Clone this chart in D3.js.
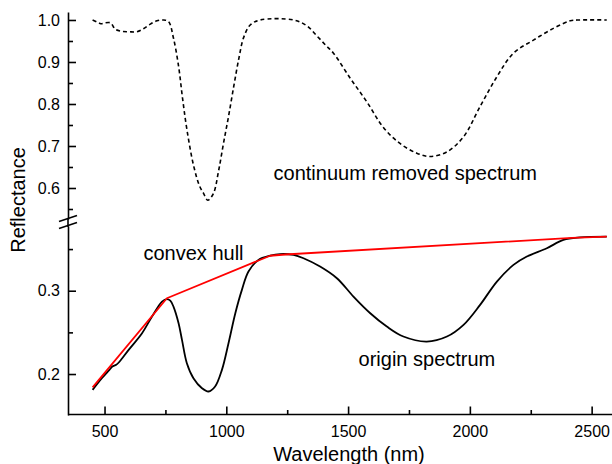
<!DOCTYPE html>
<html>
<head>
<meta charset="utf-8">
<script src="https://cdn.jsdelivr.net/npm/d3@7/dist/d3.min.js"></script>
<style>
  html, body { margin: 0; padding: 0; background: #fff; }
  svg { display: block; }
  text { font-family: "Liberation Sans", Arial, Helvetica, sans-serif; fill: #000; }
</style>
</head>
<body>
<svg id="chart" width="612" height="464"></svg>
<script>
// Original reflectance spectrum (nm, reflectance)
const originWavelength = [451, 489, 520, 532, 548, 562, 599, 654, 695, 736, 756, 770, 783, 804, 818, 838, 865, 900, 927, 954, 982, 1009, 1037, 1064, 1091, 1132, 1180, 1221, 1276, 1317, 1385, 1454, 1522, 1591, 1659, 1727, 1823, 1906, 1974, 2042, 2111, 2179, 2234, 2316, 2384, 2452, 2562];
const originReflectance = [0.181, 0.195, 0.205, 0.209, 0.211, 0.215, 0.229, 0.249, 0.269, 0.287, 0.290, 0.288, 0.281, 0.261, 0.241, 0.213, 0.195, 0.183, 0.179, 0.185, 0.205, 0.237, 0.273, 0.301, 0.323, 0.337, 0.342, 0.344, 0.343, 0.339, 0.329, 0.315, 0.293, 0.273, 0.257, 0.245, 0.239, 0.245, 0.259, 0.283, 0.311, 0.331, 0.341, 0.351, 0.361, 0.364, 0.365];

// Convex hull (continuum) over the spectrum
const hullWavelength = [451, 756, 1180, 1242, 2420, 2562];
const hullReflectance = [0.184, 0.291, 0.342, 0.3435, 0.3635, 0.365];

// Continuum-removed spectrum
const crWavelength = [451, 470, 485, 500, 525, 544, 570, 600, 633, 660, 685, 715, 742, 763, 783, 804, 820, 838, 865, 890, 906, 924, 947, 968, 988, 1009, 1030, 1052, 1071, 1098, 1139, 1276, 1331, 1372, 1408, 1440, 1508, 1577, 1645, 1713, 1782, 1837, 1906, 1974, 2042, 2111, 2179, 2261, 2343, 2412, 2450, 2562];
const crReflectance = [1.0, 0.995, 0.991, 0.993, 0.993, 0.978, 0.973, 0.972, 0.972, 0.979, 0.989, 0.998, 1.0, 0.996, 0.957, 0.89, 0.815, 0.74, 0.655, 0.605, 0.588, 0.571, 0.587, 0.64, 0.705, 0.77, 0.84, 0.91, 0.958, 0.988, 1.0, 1.0, 0.986, 0.962, 0.94, 0.921, 0.862, 0.805, 0.744, 0.706, 0.683, 0.675, 0.686, 0.722, 0.794, 0.865, 0.921, 0.952, 0.98, 0.998, 1.0, 1.0];

// Axis ticks
const xMajorTicks = [500, 1000, 1500, 2000, 2500];
const xMinorTicks = [750, 1250, 1750, 2250];
const yUpperMajorTicks = [0.6, 0.7, 0.8, 0.9, 1.0];
const yUpperMinorTicks = [0.55, 0.65, 0.75, 0.85, 0.95];
const yLowerMajorTicks = [0.2, 0.3];
const yLowerMinorTicks = [0.25, 0.35];

const svg = d3.select("#chart");

const x = d3.scaleLinear().domain([350, 2600]).range([68, 616]);
// Broken y axis: upper panel for the continuum-removed curve, lower for reflectance
const yUpper = d3.scaleLinear().domain([0.5262, 1.019]).range([219, 12]);
const yLower = d3.scaleLinear().domain([0.1508, 0.3777]).range([415, 226]);

const axisStroke = 1.6;

function styleAxis(g) {
  g.selectAll("path.domain").attr("stroke", "#000").attr("stroke-width", axisStroke);
  g.selectAll(".tick line").attr("stroke", "#000").attr("stroke-width", axisStroke);
  g.selectAll(".tick text").attr("font-size", 16).attr("fill", "#000")
    .attr("font-family", '"Liberation Sans", Arial, sans-serif');
}

// X axis
const gx = svg.append("g").attr("transform", "translate(0,414.5)");
gx.call(d3.axisBottom(x).tickValues(xMajorTicks).tickSize(-8).tickPadding(11.5).tickSizeOuter(0).tickFormat(d3.format("d")))
  .call(styleAxis);
gx.select("path.domain").attr("d", "M68,0H612");
svg.append("g").attr("transform", "translate(0,414.5)")
  .call(d3.axisBottom(x).tickValues(xMinorTicks).tickSize(-4.5).tickFormat(""))
  .call(styleAxis)
  .select("path.domain").remove();

// Upper y axis
const gyu = svg.append("g").attr("transform", "translate(68,0)");
gyu.call(d3.axisLeft(yUpper).tickValues(yUpperMajorTicks).tickSize(-8).tickPadding(8).tickSizeOuter(0).tickFormat(d3.format(".1f")))
  .call(styleAxis);
svg.append("g").attr("transform", "translate(68,0)")
  .call(d3.axisLeft(yUpper).tickValues(yUpperMinorTicks).tickSize(-5).tickFormat(""))
  .call(styleAxis)
  .select("path.domain").remove();

// Lower y axis
const gyl = svg.append("g").attr("transform", "translate(68,0)");
gyl.call(d3.axisLeft(yLower).tickValues(yLowerMajorTicks).tickSize(-8).tickPadding(8).tickSizeOuter(0).tickFormat(d3.format(".1f")))
  .call(styleAxis);
svg.append("g").attr("transform", "translate(68,0)")
  .call(d3.axisLeft(yLower).tickValues(yLowerMinorTicks).tickSize(-5).tickFormat(""))
  .call(styleAxis)
  .select("path.domain").remove();

// Join the two y-axis segments through the break
svg.append("line").attr("x1", 68).attr("x2", 68).attr("y1", 218).attr("y2", 227)
  .attr("stroke", "#000").attr("stroke-width", axisStroke);

// Axis break marks
[[221.5, 215.5], [228.5, 222.5]].forEach(([yl, yr]) => {
  svg.append("line").attr("x1", 59).attr("y1", yl).attr("x2", 77).attr("y2", yr)
    .attr("stroke", "#000").attr("stroke-width", 1.6);
});

// Curves
const lineLower = d3.line().x(d => x(d[0])).y(d => yLower(d[1])).curve(d3.curveCatmullRom.alpha(0.5));
const lineUpper = d3.line().x(d => x(d[0])).y(d => yUpper(d[1])).curve(d3.curveCatmullRom.alpha(0.5));
const lineHull = d3.line().x(d => x(d[0])).y(d => yLower(d[1]));

const originData = d3.zip(originWavelength, originReflectance);
const hullData = d3.zip(hullWavelength, hullReflectance);
const crData = d3.zip(crWavelength, crReflectance);

svg.append("path").datum(crData).attr("d", lineUpper)
  .attr("fill", "none").attr("stroke", "#000").attr("stroke-width", 1.6)
  .attr("stroke-dasharray", "4,3");

svg.append("path").datum(originData).attr("d", lineLower)
  .attr("fill", "none").attr("stroke", "#000").attr("stroke-width", 1.8)
  .attr("stroke-linejoin", "round");

svg.append("path").datum(hullData).attr("d", lineHull)
  .attr("fill", "none").attr("stroke", "#ff0000").attr("stroke-width", 1.8)
  .attr("stroke-linejoin", "round");

// Annotations
svg.append("text").attr("x", x(1194)).attr("y", yUpper(0.619))
  .attr("font-size", 20).text("continuum removed spectrum");
svg.append("text").attr("x", x(660)).attr("y", yLower(0.337))
  .attr("font-size", 20).text("convex hull");
svg.append("text").attr("x", x(1543)).attr("y", yLower(0.210))
  .attr("font-size", 20).text("origin spectrum");

// Axis titles
svg.append("text").attr("x", 349).attr("y", 461).attr("text-anchor", "middle")
  .attr("font-size", 20).text("Wavelength (nm)");
svg.append("text").attr("transform", "translate(25,200) rotate(-90)")
  .attr("text-anchor", "middle").attr("font-size", 20).text("Reflectance");
</script>
</body>
</html>
